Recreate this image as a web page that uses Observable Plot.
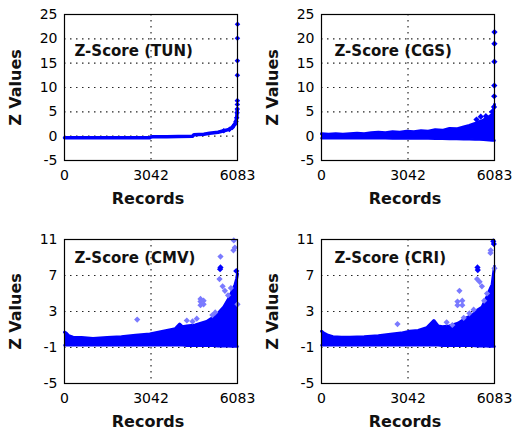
<!DOCTYPE html>
<html><head><meta charset="utf-8">
<script src="https://cdn.jsdelivr.net/npm/d3@7"></script>
<script src="https://cdn.jsdelivr.net/npm/@observablehq/plot@0.6"></script>
<style>
body{margin:0;background:#fff}
#wrap{position:relative;width:514px;height:435px;overflow:hidden}
#wrap svg{position:absolute}
</style></head><body><div id="wrap"></div>
<script>
const xTicks = [0, 3042, 6083];
const yTicksTop = [-5, 0, 5, 10, 15, 20, 25];
const yTicksBottom = [-5, -1, 3, 7, 11];
const titles = ["Z-Score (TUN)", "Z-Score (CGS)", "Z-Score (CMV)", "Z-Score (CRI)"];
const xLabel = "Records";
const yLabel = "Z Values";

// TUN: sorted curve + extreme tail
const tunX = [0, 500, 1000, 1500, 2000, 2500, 3000, 3040, 3100, 3600, 4000, 4500, 4550, 4900, 5100, 5400, 5600, 5800, 5900, 5980, 6030, 6055, 6068, 6075];
const tunY = [-0.35, -0.35, -0.35, -0.35, -0.35, -0.35, -0.33, -0.15, -0.12, -0.1, -0.05, 0.0, 0.3, 0.4, 0.6, 0.8, 1.1, 1.4, 1.8, 2.4, 3.0, 3.8, 4.8, 5.6];
const tunOutX = [6077, 6078, 6079, 6080, 6081, 6083];
const tunOutY = [6.5, 7.3, 12.5, 15.5, 20.1, 23.0];

// CGS: band envelope + outliers
const cgsX  = [0, 250, 500, 750, 1000, 1250, 1500, 1750, 2000, 2250, 2500, 2750, 3000, 3250, 3500, 3750, 4000, 4250, 4500, 4750, 5000, 5200, 5400, 5550, 5700, 5800, 5900, 6000, 6050, 6083];
const cgsHi = [0.5, 0.4, 0.5, 0.4, 0.5, 0.6, 0.5, 0.7, 0.8, 0.7, 0.9, 0.8, 1.0, 0.9, 1.1, 1.0, 1.3, 1.2, 1.6, 1.5, 1.9, 2.2, 2.6, 3.0, 3.3, 3.8, 4.0, 4.5, 5.5, 6.5];
const cgsLo = [-0.45, -0.45, -0.45, -0.45, -0.45, -0.45, -0.45, -0.45, -0.45, -0.45, -0.5, -0.5, -0.5, -0.5, -0.5, -0.5, -0.55, -0.55, -0.6, -0.6, -0.65, -0.65, -0.7, -0.7, -0.75, -0.8, -0.85, -0.9, -0.9, -0.9];
const cgsOutX = [5450, 5600, 5780, 5850, 6000, 6065, 6072, 6076, 6079, 6081, 6083];
const cgsOutY = [3.4, 4.0, 4.1, 3.2, 5.0, 6.0, 8.2, 10.4, 15.3, 19.0, 21.4];

// CMV
const cmvX  = [0, 60, 150, 300, 600, 1000, 1500, 2000, 2500, 3000, 3300, 3600, 3900, 4050, 4150, 4300, 4600, 4800, 5000, 5200, 5400, 5600, 5750, 5900, 6000, 6050, 6083];
const cmvHi = [0.7, 0.6, 0.3, 0.15, 0.1, 0.0, 0.1, 0.2, 0.35, 0.5, 0.7, 0.9, 1.1, 1.6, 1.3, 1.4, 1.5, 1.7, 1.9, 2.3, 2.8, 3.5, 4.3, 5.3, 6.0, 6.6, 7.2];
const cmvLo = [-0.75, -0.75, -0.75, -0.75, -0.75, -0.75, -0.75, -0.75, -0.75, -0.75, -0.75, -0.75, -0.75, -0.75, -0.75, -0.8, -0.8, -0.8, -0.8, -0.8, -0.85, -0.85, -0.85, -0.9, -0.9, -0.9, -0.9];
const cmvDarkX = [5485, 5470, 6040];
const cmvDarkY = [7.9, 7.7, 7.5];
const cmvLightX = [2556, 4782, 4782, 4782, 4891, 4891, 5485, 5450, 5560, 5640, 5953, 5990, 5940, 6083, 4300, 4500, 4650, 5200, 5300, 5750, 5850];
const cmvLightY = [2.1, 4.4, 4.1, 3.7, 4.2, 3.8, 9.1, 6.6, 5.8, 5.3, 10.9, 10.1, 9.8, 3.8, 2.0, 1.9, 2.2, 2.6, 2.9, 4.8, 5.6];

// CRI
const criX  = [0, 80, 200, 400, 700, 1000, 1500, 2000, 2500, 2800, 3100, 3400, 3700, 3950, 4100, 4250, 4500, 4800, 5100, 5300, 5500, 5650, 5800, 5900, 6000, 6040, 6083];
const criHi = [0.8, 0.6, 0.4, 0.2, 0.15, 0.15, 0.2, 0.3, 0.5, 0.6, 0.8, 0.9, 1.2, 2.0, 1.4, 1.3, 1.4, 1.7, 2.3, 2.6, 3.2, 3.5, 4.5, 5.3, 6.0, 7.0, 8.0];
const criLo = [-0.75, -0.75, -0.75, -0.75, -0.75, -0.75, -0.75, -0.75, -0.75, -0.75, -0.75, -0.75, -0.75, -0.75, -0.75, -0.8, -0.8, -0.8, -0.8, -0.8, -0.85, -0.85, -0.85, -0.9, -0.9, -0.9, -0.9];
const criDarkX = [5485, 5495, 6040, 6060];
const criDarkY = [7.9, 7.6, 10.8, 10.5];
const criLightX = [2672, 4782, 4782, 4950, 4950, 4850, 5470, 5560, 5640, 5950, 5940, 6083, 4400, 4600, 5000, 5200, 5350, 5720, 5820];
const criLightY = [1.6, 4.1, 3.7, 4.2, 3.7, 5.3, 6.6, 6.3, 5.8, 9.8, 9.5, 7.8, 1.8, 1.5, 2.3, 2.8, 3.2, 4.2, 5.0];

const BLUE = "#0000ff";
const LIGHT = "#7a7aff";
const zip = (xs, ...cols) => xs.map((x, i) => ({x, a: cols[0] ? cols[0][i] : null, b: cols[1] ? cols[1][i] : null}));
const fmt = d => String(d);

function panel({left, top, height, mt, mb, yDomain, yTicks, title, tdx, tdy, data}) {
  const grid = yTicks.filter(v => v !== yDomain[0] && v !== yDomain[1]);
  const svg = Plot.plot({
    width: 257, height,
    marginLeft: 64, marginRight: 20, marginTop: mt, marginBottom: mb,
    x: {domain: [0, 6083]},
    y: {domain: yDomain},
    style: {fontFamily: "DejaVu Sans", fontSize: "14px", color: "#000", background: "transparent"},
    marks: [
      Plot.gridY(grid, {stroke: "#000", strokeOpacity: 0.85, strokeDasharray: "1.5,4.5", strokeWidth: 1.2}),
      Plot.gridX([3042], {stroke: "#000", strokeOpacity: 0.85, strokeDasharray: "1.5,4.5", strokeWidth: 1.2}),
      ...data,
      Plot.frame({stroke: "#000", strokeWidth: 1.2}),
      Plot.axisX(xTicks, {tickSize: 0, tickPadding: 10, label: null, fontSize: 14, tickFormat: fmt}),
      Plot.axisY(yTicks, {tickSize: 0, tickPadding: 7, label: null, fontSize: 14, tickFormat: fmt}),
      Plot.text([title], {text: d => d, frameAnchor: "top-left", dx: tdx, dy: tdy, textAnchor: "start", lineAnchor: "middle", fontWeight: "bold", fontSize: 15, fill: "#111"}),
      Plot.text([xLabel], {text: d => d, frameAnchor: "bottom", dx: -3, dy: 38, textAnchor: "middle", lineAnchor: "middle", fontWeight: "bold", fontSize: 16, fill: "#111"}),
      Plot.text([yLabel], {text: d => d, frameAnchor: "left", dx: -49, rotate: -90, textAnchor: "middle", lineAnchor: "middle", fontWeight: "bold", fontSize: 16, fill: "#111"})
    ]
  });
  svg.style.left = left + "px";
  svg.style.top = top + "px";
  document.getElementById("wrap").appendChild(svg);
}

function bandMarks(xs, hi, lo, darkX, darkY, lightX, lightY) {
  const band = zip(xs, hi, lo);
  const marks = [
    Plot.areaY(band, {x: "x", y1: "b", y2: "a", fill: BLUE}),
    Plot.line(band, {x: "x", y: "a", stroke: BLUE, strokeWidth: 3, strokeLinejoin: "round"}),
    Plot.line(band, {x: "x", y: "b", stroke: BLUE, strokeWidth: 2.5, strokeLinejoin: "round"})
  ];
  if (lightX) marks.push(Plot.dot(zip(lightX, lightY), {x: "x", y: "a", symbol: "diamond2", r: 2.8, fill: LIGHT}));
  if (darkX) marks.push(Plot.dot(zip(darkX, darkY), {x: "x", y: "a", symbol: "diamond2", r: 2.8, fill: BLUE}));
  return marks;
}

const tun = zip(tunX, tunY);
panel({left: 0, top: 0, height: 217, mt: 14, mb: 57, yDomain: [-5, 25], yTicks: yTicksTop, title: titles[0], tdx: 10, tdy: 37,
  data: [
    Plot.line(tun, {x: "x", y: "a", stroke: BLUE, strokeWidth: 3.5}),
    Plot.dot(tun.slice(-8), {x: "x", y: "a", symbol: "diamond2", r: 2.5, fill: BLUE}),
    Plot.dot(zip(tunOutX, tunOutY), {x: "x", y: "a", symbol: "diamond2", r: 2.5, fill: BLUE})
  ]});
panel({left: 257, top: 0, height: 217, mt: 14, mb: 57, yDomain: [-5, 25], yTicks: yTicksTop, title: titles[1], tdx: 13, tdy: 37,
  data: bandMarks(cgsX, cgsHi, cgsLo, cgsOutX, cgsOutY, null, null)});
panel({left: 0, top: 217, height: 218, mt: 22, mb: 52, yDomain: [-5, 11], yTicks: yTicksBottom, title: titles[2], tdx: 10, tdy: 19,
  data: bandMarks(cmvX, cmvHi, cmvLo, cmvDarkX, cmvDarkY, cmvLightX, cmvLightY)});
panel({left: 257, top: 217, height: 218, mt: 22, mb: 52, yDomain: [-5, 11], yTicks: yTicksBottom, title: titles[3], tdx: 13, tdy: 19,
  data: bandMarks(criX, criHi, criLo, criDarkX, criDarkY, criLightX, criLightY)});
</script></body></html>
